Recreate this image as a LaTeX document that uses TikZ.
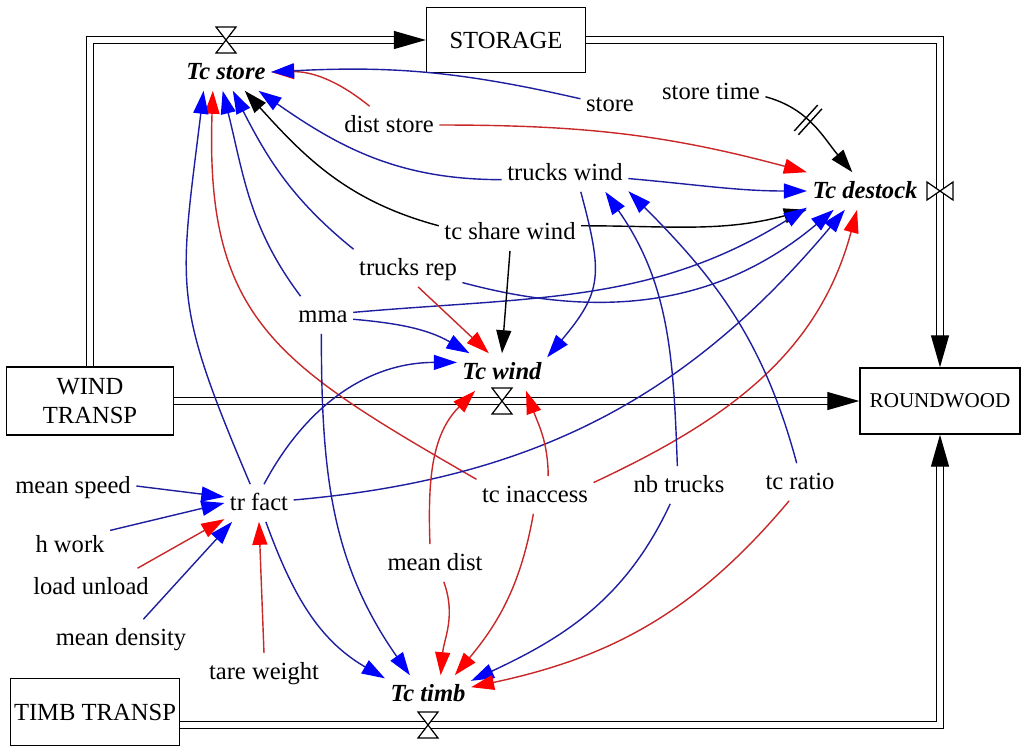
\documentclass[tikz,border=0pt]{standalone}
\usepackage{fontspec}
\setmainfont{Liberation Serif}
\usepackage{xcolor}
\usepackage{tikz}
\usetikzlibrary{arrows.meta}
\definecolor{linkblue}{RGB}{30,30,160}
\definecolor{linkred}{RGB}{200,40,40}
\tikzset{link/.style = {line width=0.8pt},
  blue link/.style = {link, color=linkblue, -{Triangle[length=0.46cm,width=0.3cm,color=blue]}},
  red link/.style = {link, color=linkred, -{Triangle[length=0.46cm,width=0.3cm,color=red]}},
  black link/.style = {link, color=black, -{Triangle[length=0.46cm,width=0.3cm]}},
  pipe/.style = {double, double distance=3pt, line width=0.7pt, -{Triangle[length=0.64cm,width=0.36cm]}},
  hvalve/.pic = {\draw[fill=white, line width=0.7pt] (-10,13) -- (10,13) -- (-10,-13) -- (10,-13) -- cycle;},
  vvalve/.pic = {\draw[fill=white, line width=0.7pt] (-13,9) -- (-13,-9) -- (13,9) -- (13,-9) -- cycle;}}

\begin{document}
\begin{tikzpicture}[x=0.02cm,y=0.02cm,
    var/.style={inner sep=3pt,text height=12pt,text depth=3pt,font=\fontsize{14}{16}\selectfont},
    aux/.style={var,font=\fontsize{14}{16}\selectfont\bfseries\itshape},
    stock/.style={draw,line width=0.8pt,inner sep=1pt,align=center,font=\fontsize{14}{16.5}\selectfont},
    delay/.style={sloped,inner sep=0pt}]
  \useasboundingbox (0,0) rectangle (1024,-755);
  % stocks
  \node[stock,minimum width=3.18cm,minimum height=1.3cm] (storage) at (506,-40) {STORAGE};
  \node[stock,minimum width=3.2cm,minimum height=1.32cm,font=\fontsize{12}{14}\selectfont] (roundwood) at (940,-401) {ROUNDWOOD};
  \node[stock,minimum width=3.34cm,minimum height=1.36cm] (windtransp) at (90,-401) {WIND\\TRANSP};
  \node[stock,minimum width=3.38cm,minimum height=1.34cm] (timbtransp) at (95,-712) {TIMB TRANSP};
  % rates
  \node[aux] (tcstore) at (226,-72) {Tc store};
  \node[aux] (tcdestock) at (865,-191) {Tc destock};
  \node[aux] (tcwind) at (502,-372) {Tc wind};
  \node[aux] (tctimb) at (428,-694) {Tc timb};
  % variables
  \node[var] (store) at (610,-104) {store};
  \node[var] (storetime) at (711,-92) {store time};
  \node[var] (diststore) at (389,-125) {dist store};
  \node[var] (truckswind) at (565,-173) {trucks wind};
  \node[var] (tcsharewind) at (510,-232) {tc share wind};
  \node[var] (trucksrep) at (408,-268) {trucks rep};
  \node[var] (mma) at (323,-315) {mma};
  \node[var] (meanspeed) at (73,-486) {mean speed};
  \node[var] (trfact) at (259,-503) {tr fact};
  \node[var] (hwork) at (70,-545) {h work};
  \node[var] (loadunload) at (91,-587) {load unload};
  \node[var] (meandensity) at (121,-638) {mean density};
  \node[var] (tareweight) at (264,-672) {tare weight};
  \node[var] (meandist) at (435,-563) {mean dist};
  \node[var] (tcinaccess) at (535,-495) {tc inaccess};
  \node[var] (nbtrucks) at (679,-485) {nb trucks};
  \node[var] (tcratio) at (800,-482) {tc ratio};

  % flows
  \coordinate (timbout) at ([yshift=-0.26cm]timbtransp.east);
  \draw[pipe] (windtransp.north) |- (storage.west);
  \draw[pipe] (storage.east) -| (roundwood.north);
  \draw[pipe] (windtransp.east) -- (roundwood.west);
  \draw[pipe] (timbout) -| (roundwood.south);
  \pic at (tcstore |- storage.west) {hvalve};
  \pic at (roundwood.north |- tcdestock) {vvalve};
  \pic at (tcwind |- roundwood.west) {hvalve};
  \pic at (timbout -| tctimb) {hvalve};

  % links to Tc store
  \path[red link] (diststore.136) edge[bend right=20] (tcstore.east);
  \path[blue link] (store.170) edge[bend right=8] (tcstore.east);
  \path[blue link] (truckswind.-174) edge[out=180,in=-35] (tcstore.-30);
  \path[black link] (tcsharewind.175) edge[out=165,in=-48] (tcstore.-45);
  \path[blue link] (trucksrep.north west) edge[out=141,in=-63] (tcstore.-70);
  \path[blue link] (mma.140) edge[out=127,in=-76] (tcstore.-100);
  \path[red link] (tcinaccess.165) edge[out=150,in=-92,looseness=1.25] (tcstore.-125);
  \path[blue link] (trfact.115) edge[out=113,in=-97,looseness=1.3] (tcstore.-140);

  % links to Tc destock
  \path[red link] (diststore.east) edge[out=0,in=165] (tcdestock.north west);
  \path[black link] (storetime.-5) edge[out=-15,in=130]
     node[delay,pos=0.42] (storedelay) {\rule{0.8pt}{0.7cm}\hspace{2.4pt}\rule{0.8pt}{0.7cm}} (tcdestock.124);
  \path[blue link] (truckswind.-5) edge[out=-5,in=180] (tcdestock.west);
  \path[black link] (tcsharewind.5) edge[out=0,in=-165] (tcdestock.south west);
  \path[blue link] (mma.5) edge[out=5,in=-148] (tcdestock.-164);
  \path[blue link] (trucksrep.-15) edge[out=-15,in=-140] (tcdestock.-149);
  \path[blue link] (trfact.5) edge[out=5,in=-130] (tcdestock.-137);
  \path[red link] (tcinaccess.12) edge[out=25,in=-105] (tcdestock.-113);

  % links to Tc wind
  \path[blue link] (mma.-8) edge[out=-5,in=150] (tcwind.150);
  \path[red link] (trucksrep.-62) edge (tcwind.125);
  \path[black link] (tcsharewind.south) edge (tcwind.north);
  \path[blue link] (truckswind.-50) edge[out=-75,in=50,looseness=1.3] (tcwind.18);
  \path[blue link] (trfact.75) edge[out=62,in=180] (tcwind.168);
  \path[red link] (meandist.105) edge[out=92,in=-135] (tcwind.-145);
  \path[red link] (tcinaccess.55) edge[out=90,in=-70] (tcwind.-38);

  % links to trucks wind
  \path[blue link] (nbtrucks.95) edge[out=92,in=-55] (truckswind.-25);
  \path[blue link] (tcratio.100) edge[out=105,in=-45] (truckswind.-16);

  % links to Tc timb
  \path[blue link] (trfact.-70) edge[out=-70,in=150] (tctimb.160);
  \path[blue link] (mma.-95) edge[out=-90,in=125] (tctimb.134);
  \path[red link] (meandist.-65) edge[out=-70,in=85] (tctimb.56);
  \path[red link] (tcinaccess.-95) edge[out=-100,in=50] (tctimb.35);
  \path[blue link] (nbtrucks.-115) edge[out=-115,in=25] (tctimb.17);
  \path[red link] (tcratio.-120) edge[out=-130,in=12] (tctimb.9);

  % links to tr fact
  \path[blue link] (meanspeed.east) edge (trfact.170);
  \path[blue link] (hwork.20) edge (trfact.west);
  \path[red link] (loadunload.22) edge (trfact.-155);
  \path[blue link] (meandensity.40) edge (trfact.-145);
  \path[red link] (tareweight.north) edge (trfact.south);
\end{tikzpicture}
\end{document}
